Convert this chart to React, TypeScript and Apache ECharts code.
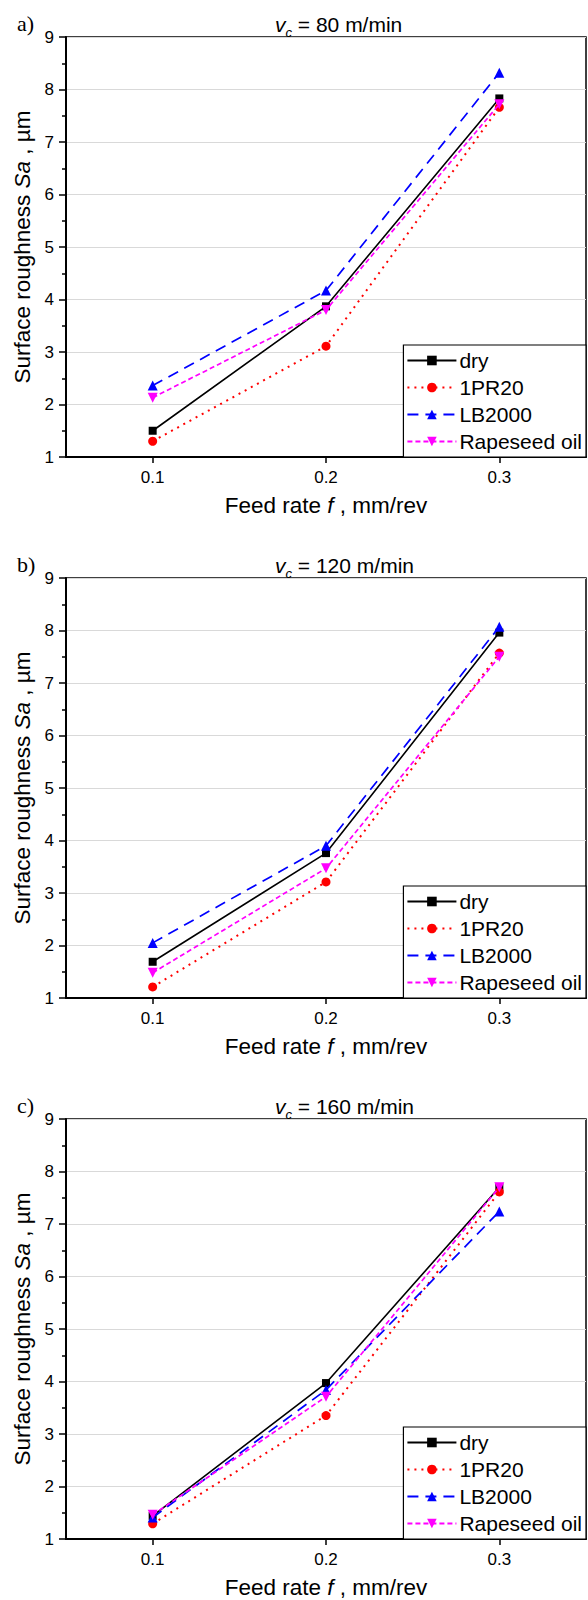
import React, { useEffect, useRef } from "react";
import * as echarts from "echarts";

const categories = ["0.1", "0.2", "0.3"];
const panelLabels = ["a)", "b)", "c)"];
const cuttingSpeeds = [80, 120, 160];
const seriesNames = ["dry", "1PR20", "LB2000", "Rapeseed oil"];

const dryA = [1.5, 3.87, 7.83];
const pr20A = [1.3, 3.11, 7.66];
const lb2000A = [2.36, 4.17, 8.32];
const rapeA = [2.13, 3.8, 7.72];

const dryB = [1.69, 3.76, 7.96];
const pr20B = [1.21, 3.21, 7.57];
const lb2000B = [2.05, 3.9, 8.07];
const rapeB = [1.48, 3.47, 7.5];

const dryC = [1.44, 3.97, 7.7];
const pr20C = [1.29, 3.35, 7.61];
const lb2000C = [1.41, 3.84, 7.24];
const rapeC = [1.46, 3.71, 7.7];

const yMin = 1;
const yMax = 9;
const yStep = 1;

const panelData = [
  [dryA, pr20A, lb2000A, rapeA],
  [dryB, pr20B, lb2000B, rapeB],
  [dryC, pr20C, lb2000C, rapeC],
];

const FONT = "Liberation Sans";
const W = 588;
const H = 1600;
const PLOT_LEFT = 66;
const PLOT_W = 520;
const PLOT_H = 420;
const PANEL_TOPS = [37, 578, 1119];

const styles = [
  { color: "#000000", symbol: "rect", size: 8, rotate: 0, line: { type: "solid", width: 1.6 } },
  { color: "#ff0000", symbol: "circle", size: 9, rotate: 0, line: { type: [2, 5], width: 2 } },
  { color: "#0000ff", symbol: "triangle", size: 10, rotate: 0, line: { type: [11, 7], width: 1.7 } },
  { color: "#ff00ff", symbol: "triangle", size: 10, rotate: 180, line: { type: [5, 3], width: 1.7 } },
];

export default function App() {
  const ref = useRef<HTMLDivElement>(null);
  useEffect(() => {
    if (!ref.current) return;
    const chart = echarts.init(ref.current, null, { renderer: "svg" });
    const grids: any[] = [];
    const xAxes: any[] = [];
    const yAxes: any[] = [];
    const series: any[] = [];
    const legends: any[] = [];
    const titles: any[] = [];
    const nameRich = {
      n: { fontSize: 22.5, fontFamily: FONT, color: "#000", fontWeight: "normal" },
      i: { fontSize: 22.5, fontFamily: FONT, color: "#000", fontStyle: "italic", fontWeight: "normal" },
    };

    PANEL_TOPS.forEach((top, p) => {
      grids.push({
        left: PLOT_LEFT,
        top,
        width: PLOT_W,
        height: PLOT_H,
        show: true,
        borderColor: "#000",
        borderWidth: 1.5,
        backgroundColor: "transparent",
      });
      xAxes.push({
        type: "category",
        gridIndex: p,
        data: categories,
        boundaryGap: true,
        axisLine: { show: true, lineStyle: { color: "#000", width: 2 } },
        axisTick: { show: true, alignWithLabel: true, length: 6, lineStyle: { color: "#000", width: 1.5 } },
        axisLabel: { color: "#000", fontSize: 17, fontFamily: FONT, margin: 12 },
        splitLine: { show: false },
        name: "{n|Feed rate }{i|f}{n| , mm/rev}",
        nameLocation: "middle",
        nameGap: 37,
        nameTextStyle: { rich: nameRich },
      });
      yAxes.push({
        type: "value",
        gridIndex: p,
        min: yMin,
        max: yMax,
        interval: yStep,
        axisLine: { show: true, lineStyle: { color: "#000", width: 2 } },
        axisTick: { show: true, length: 7, lineStyle: { color: "#000", width: 1.5 } },
        minorTick: { show: true, splitNumber: 2, length: 4, lineStyle: { color: "#000", width: 1.5 } },
        axisLabel: { color: "#000", fontSize: 17, fontFamily: FONT, margin: 12 },
        splitLine: { show: true, lineStyle: { color: "#d9d9d9", width: 1 } },
        name: "{n|Surface roughness }{i|Sa}{n| , µm}",
        nameLocation: "middle",
        nameGap: 31,
        nameRotate: 90,
        nameTextStyle: { rich: nameRich },
      });
      panelData[p].forEach((vals, s) => {
        const st = styles[s];
        series.push({
          type: "line",
          name: seriesNames[s],
          xAxisIndex: p,
          yAxisIndex: p,
          data: vals,
          symbol: st.symbol,
          symbolSize: st.size,
          symbolRotate: st.rotate,
          showAllSymbol: true,
          itemStyle: { color: st.color, opacity: 1 },
          lineStyle: { color: st.color, type: st.line.type, width: st.line.width },
          z: 2 + s,
        });
      });
      legends.push({
        orient: "vertical",
        right: W - (PLOT_LEFT + PLOT_W),
        bottom: H - (top + PLOT_H),
        data: seriesNames,
        selectedMode: false,
        backgroundColor: "#ffffff",
        borderColor: "#000",
        borderWidth: 1.2,
        borderRadius: 0,
        padding: [5, 4, 5, 3],
        itemWidth: 49,
        itemHeight: 12,
        itemGap: 6,
        textStyle: { fontSize: 21, fontFamily: FONT, color: "#000", padding: [0, 0, 0, -2] },
        z: 10,
      });
      titles.push({
        text: `{i|v}{s|c}{n| = ${cuttingSpeeds[p]} m/min}`,
        left: 270,
        top: top - 33,
        textStyle: {
          fontWeight: "normal",
          rich: {
            i: { fontSize: 21, fontFamily: FONT, color: "#000", fontStyle: "italic", fontWeight: "normal", lineHeight: 30, verticalAlign: "middle" },
            s: { fontSize: 13, fontFamily: FONT, color: "#000", fontStyle: "italic", fontWeight: "normal", lineHeight: 12, verticalAlign: "bottom" },
            n: { fontSize: 21, fontFamily: FONT, color: "#000", fontWeight: "normal", lineHeight: 30, verticalAlign: "middle" },
          },
        },
      });
      titles.push({
        text: panelLabels[p],
        left: 12,
        top: top - 30,
        textStyle: { fontSize: 22, fontFamily: "Liberation Serif", color: "#000", fontWeight: "normal" },
      });
    });

    chart.setOption({
      animation: false,
      backgroundColor: "#ffffff",
      title: titles,
      grid: grids,
      xAxis: xAxes,
      yAxis: yAxes,
      legend: legends,
      series,
    });
    return () => chart.dispose();
  }, []);
  return <div ref={ref} style={{ position: "absolute", left: 0, top: 0, width: W, height: H }} />;
}
